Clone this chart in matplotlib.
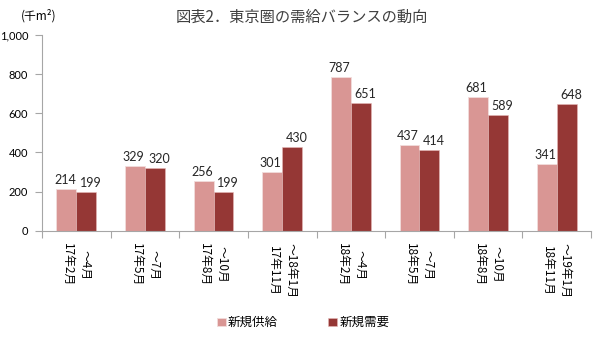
import matplotlib.pyplot as plt
import numpy as np

plt.rcParams['font.family'] = ['Noto Sans CJK JP', 'DejaVu Sans']

# each label is drawn rotated clockwise, so the second line ends up on the left
periods = ["～4月\n17年2月", "～7月\n17年5月", "～10月\n17年8月", "～18年1月\n17年11月",
           "～4月\n18年2月", "～7月\n18年5月", "～10月\n18年8月", "～19年1月\n18年11月"]
supply = [214, 329, 256, 301, 787, 437, 681, 341]
demand = [199, 320, 199, 430, 651, 414, 589, 648]

supply_color = "#D99694"
demand_color = "#953735"
axis_color = "#A6A6A6"
text_color = "#404040"

fig = plt.figure(figsize=(6, 3.38), dpi=100)
ax = fig.add_axes([0.07, 0.3175, 0.915, 0.579])

x = np.arange(len(periods))
w = 0.29
b1 = ax.bar(x - w / 2, supply, w, color=supply_color, edgecolor="#F2DCDB",
            linewidth=0.6, label="新規供給")
b2 = ax.bar(x + w / 2, demand, w, color=demand_color, edgecolor="#E6B9B8",
            linewidth=0.4, label="新規需要")

# value labels, nudged apart so neighbouring numbers don't touch
for bars, vals, dx in ((b1, supply, -1.5), (b2, demand, 4.5)):
    for rect, v in zip(bars, vals):
        ax.annotate(f"{v}", (rect.get_x() + rect.get_width() / 2, v),
                    xytext=(dx, 3), textcoords="offset pixels",
                    ha="center", va="bottom", fontsize=9, color="#262626",
                    family="Lato")

ax.set_xlim(-0.5, len(periods) - 0.5)
ax.set_ylim(0, 1000)
ax.set_yticks(range(0, 1001, 200))
ax.set_yticklabels([f"{v:,}" for v in range(0, 1001, 200)], fontsize=8,
                   color="black", family="Lato")

# category ticks sit between the groups, labels at group centres
ax.set_xticks(np.arange(-0.5, len(periods)), minor=False)
ax.set_xticklabels([])
ax.set_xticks(x, minor=True)
ax.set_xticklabels(periods, minor=True, rotation=-90, fontsize=8.5,
                   va="top", ha="center", color="black", linespacing=1.45,
                   multialignment="center")
ax.tick_params(axis="x", which="minor", length=0, pad=9)
ax.tick_params(axis="x", which="major", length=5, color=axis_color)
ax.tick_params(axis="y", length=5, color=axis_color, pad=5)

for side in ("top", "right"):
    ax.spines[side].set_visible(False)
for side in ("left", "bottom"):
    ax.spines[side].set_color(axis_color)
    ax.spines[side].set_linewidth(0.8)

fig.text(0.503, 0.95, "図表2．東京圏の需給バランスの動向", ha="center", va="center",
         fontsize=11, color=text_color)
fig.text(0.065, 0.953, "(千m²)", ha="center", va="center", fontsize=8.5, color="black")

fig.legend(loc="center", bbox_to_anchor=(0.505, 0.045), ncol=2, frameon=False,
           fontsize=9, handlelength=0.7, handleheight=0.7, handletextpad=0.2,
           columnspacing=4.0)

fig.savefig("out.png", dpi=100)
